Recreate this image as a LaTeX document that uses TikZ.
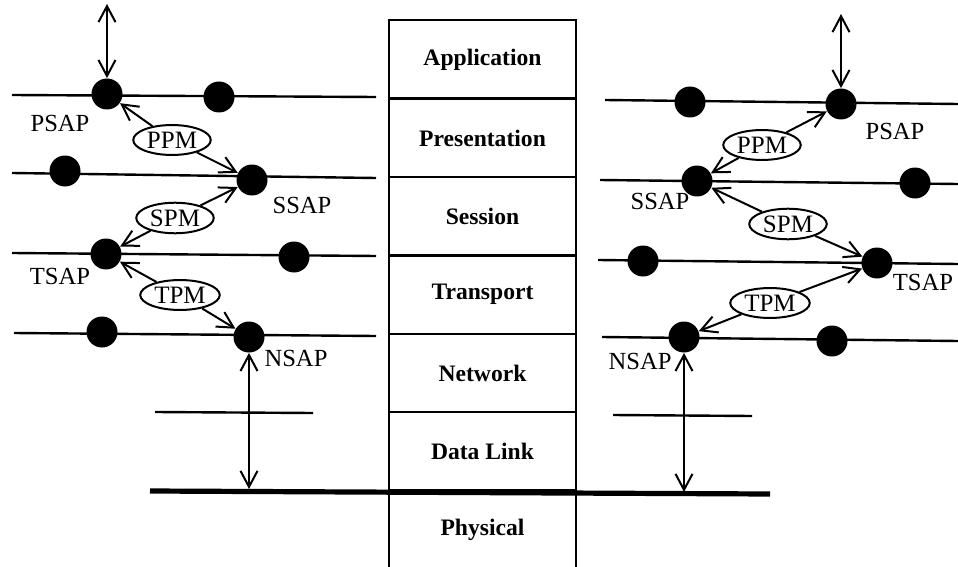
\documentclass[tikz,border=0pt]{standalone}
\usepackage{fontspec}
\setmainfont{Liberation Serif}
\usetikzlibrary{
    arrows.meta,
    shapes.geometric,
    positioning
}

\tikzset{
    sap/.style={circle, fill=black, inner sep=0pt, minimum size=15.5pt},
    pdu/.style={ellipse, draw, fill=white, line width=1pt, inner sep=1.2pt, font=\fontsize{12.5}{13}\selectfont},
    layer/.style={rectangle, draw, line width=1pt, minimum width=93.5pt, minimum height=39pt, font=\bfseries\fontsize{11.8}{13}\selectfont},
    saplabel/.style={inner sep=0pt, font=\fontsize{12.3}{14}\selectfont},
    wire/.style={line width=1.2pt},
    barb/.tip={Straight Barb[length=8pt, width=8.5pt, line width=1pt]},
    link/.style={line width=1pt, -barb},
    twoway/.style={line width=1pt, barb-barb}
}

\begin{document}
\begin{tikzpicture}[x=0.5pt, y=-0.5pt]
    \useasboundingbox (0,0) rectangle (958,567);

    % the seven layers
    \node[layer] (app)   at (482.5, 59.5) {Application};
    \node[layer] (pres)  at (482.5, 138)  {Presentation};
    \node[layer] (sess)  at (482.5, 216)  {Session};
    \node[layer] (trans) at (482.5, 294.5) {Transport};
    \node[layer] (net)   at (482.5, 373)  {Network};
    \node[layer] (dlink) at (482.5, 451)  {Data Link};
    \node[layer, minimum height=40pt] (phys) at (482.5, 530) {Physical};

    % left end system
    \draw[wire] (12, 95) -- (376, 97);
    \draw[wire] (12, 173) -- (376, 178);
    \draw[wire] (12, 253) -- (376, 256);
    \draw[wire] (14, 333) -- (376, 336);
    \draw[wire] (155, 412) -- (313, 413);

    % right end system
    \draw[wire] (605, 100) -- (958, 104);
    \draw[wire] (600, 180) -- (958, 184);
    \draw[wire] (598, 260) -- (958, 264);
    \draw[wire] (602, 337) -- (958, 341);
    \draw[wire] (613, 415) -- (752, 416);

    % physical medium
    \draw[line width=2.6pt] (150, 491) -- (770, 494);

    \node[sap] (psapL) at (107, 94) {};
    \node[sap] (dotLa) at (219, 97) {};
    \node[sap] (dotLb) at (65, 171) {};
    \node[sap] (ssapL) at (252, 180) {};
    \node[sap] (tsapL) at (106, 254) {};
    \node[sap] (dotLc) at (294, 257) {};
    \node[sap] (dotLd) at (102, 332) {};
    \node[sap] (nsapL) at (249, 337) {};

    \node[sap] (dotRa) at (690, 102) {};
    \node[sap] (psapR) at (841, 104) {};
    \node[sap] (ssapR) at (697, 181) {};
    \node[sap] (dotRb) at (915, 183) {};
    \node[sap] (dotRc) at (643, 261) {};
    \node[sap] (tsapR) at (877, 263) {};
    \node[sap] (nsapR) at (684, 337) {};
    \node[sap] (dotRd) at (832, 341) {};

    \node[saplabel] at (60, 123)  {PSAP};
    \node[saplabel] at (302, 205) {SSAP};
    \node[saplabel] at (60, 276)  {TSAP};
    \node[saplabel] at (296, 358) {NSAP};

    \node[saplabel] at (895, 131) {PSAP};
    \node[saplabel] at (660, 201) {SSAP};
    \node[saplabel] at (923, 282) {TSAP};
    \node[saplabel] at (640, 361) {NSAP};

    \node[pdu] (ppmL) at (172, 140) {PPM};
    \node[pdu] (spmL) at (175, 218) {SPM};
    \node[pdu] (tpmL) at (180, 295) {TPM};

    \node[pdu] (ppmR) at (762, 145) {PPM};
    \node[pdu] (spmR) at (788, 224) {SPM};
    \node[pdu] (tpmR) at (770, 303) {TPM};

    \draw[link] (ppmL) -- (psapL);
    \draw[link] (ppmL) -- (ssapL);
    \draw[link] (spmL) -- (ssapL);
    \draw[link] (spmL) -- (tsapL);
    \draw[link] (tpmL) -- (tsapL);
    \draw[link] (tpmL) -- (nsapL);

    \draw[link] (ppmR) -- (psapR);
    \draw[link] (ppmR) -- (ssapR);
    \draw[link] (spmR) -- (ssapR);
    \draw[link] (spmR) -- (tsapR);
    \draw[link] (tpmR) -- (tsapR);
    \draw[link] (tpmR) -- (nsapR);

    % service access from above and down to the medium
    \coordinate (upL) at (107, 4);
    \coordinate (upR) at (841, 14);
    \coordinate (downL) at (249, 489);
    \coordinate (downR) at (684, 492);
    \draw[twoway] (upL) -- (psapL);
    \draw[twoway] (upR) -- (psapR);
    \draw[twoway] (nsapL) -- (downL);
    \draw[twoway] (nsapR) -- (downR);
\end{tikzpicture}
\end{document}
